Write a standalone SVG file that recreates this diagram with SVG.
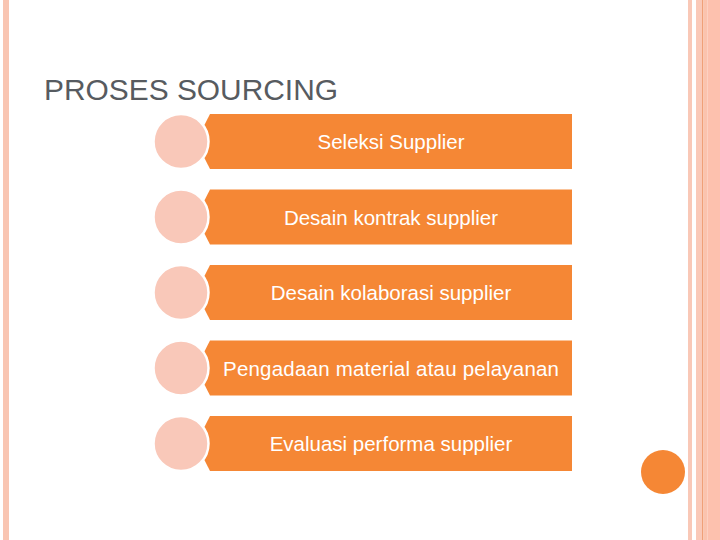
<svg xmlns="http://www.w3.org/2000/svg" width="720" height="540" viewBox="0 0 720 540">
<style>
.bar{fill:#F58735;}
.dot{fill:#F9C8B9;stroke:#FFFFFF;stroke-width:2.5;}
.lbl{font-family:"Liberation Sans",Arial,sans-serif;font-size:20.5px;fill:#FFFFFF;text-anchor:middle;}
.title{font-family:"Liberation Sans",Arial,sans-serif;font-size:29.9px;fill:#575B60;}
</style>
<rect width="720" height="540" fill="#FFFFFF"/>
<g id="frame">
<rect x="3" y="0" width="6" height="540" fill="#F9C5B2"/>
<rect x="688" y="0" width="4" height="540" fill="#F9C8B7"/>
<rect x="696" y="0" width="6" height="540" fill="#FAC9B8"/>
<rect x="702" y="0" width="1.5" height="540" fill="#F0A078"/>
<rect x="703.5" y="0" width="4" height="540" fill="#FBC3AE"/>
<rect x="707.5" y="0" width="12.5" height="540" fill="#FDC1AE"/>
</g>
<text class="title" x="44" y="100">PROSES SOURCING</text>
<g id="step1">
<path class="bar" d="M210,114 H572 V169 H210 L196,141.5 Z"/>
<circle class="dot" cx="181" cy="141.5" r="27.5"/>
<text class="lbl" x="391" y="149">Seleksi Supplier</text>
</g>
<g id="step2">
<path class="bar" d="M210,189.5 H572 V244.5 H210 L196,217 Z"/>
<circle class="dot" cx="181" cy="217" r="27.5"/>
<text class="lbl" x="391" y="224.5">Desain kontrak supplier</text>
</g>
<g id="step3">
<path class="bar" d="M210,265 H572 V320 H210 L196,292.5 Z"/>
<circle class="dot" cx="181" cy="292.5" r="27.5"/>
<text class="lbl" x="391" y="300">Desain kolaborasi supplier</text>
</g>
<g id="step4">
<path class="bar" d="M210,340.5 H572 V395.5 H210 L196,368 Z"/>
<circle class="dot" cx="181" cy="368" r="27.5"/>
<text class="lbl" x="391" y="375.5" textLength="336" lengthAdjust="spacing">Pengadaan material atau pelayanan</text>
</g>
<g id="step5">
<path class="bar" d="M210,416 H572 V471 H210 L196,443.5 Z"/>
<circle class="dot" cx="181" cy="443.5" r="27.5"/>
<text class="lbl" x="391" y="451">Evaluasi performa supplier</text>
</g>
<circle cx="663" cy="472" r="22" fill="#F58735"/>
<g id="connectors"/>
</svg>
